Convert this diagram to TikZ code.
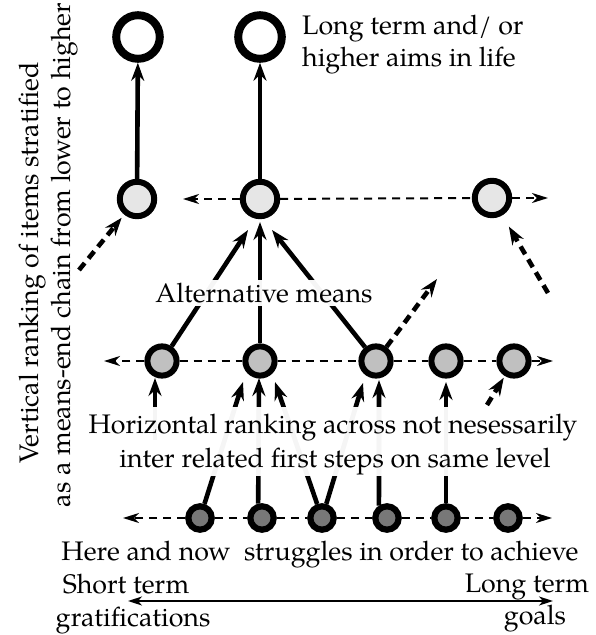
\documentclass[tikz,border=0pt]{standalone}
\usepackage{fontspec}
\setmainfont{TeX Gyre Pagella}
\usetikzlibrary{arrows.meta}
\definecolor{lvtwo}{HTML}{E6E6E6}
\definecolor{lvthree}{HTML}{C0C0C0}
\definecolor{lvfour}{HTML}{787878}
\begin{document}
\begin{tikzpicture}[x=1bp,y=-1bp,
  txt/.style={inner sep=0, font=\fontsize{26.8bp}{32bp}\selectfont},
  topc/.style={circle, draw, line width=8bp, minimum size=43.6bp, inner sep=0, fill=white},
  midc/.style={circle, draw, line width=6bp, minimum size=34.4bp, inner sep=0, fill=lvtwo},
  lowc/.style={circle, draw, line width=6bp, minimum size=29.2bp, inner sep=0, fill=lvthree},
  basec/.style={circle, draw, line width=6.2bp, minimum size=23.4bp, inner sep=0, fill=lvfour},
  bigtip/.style={-{Stealth[length=18bp,width=13bp,inset=6bp]}},
  solidarr/.style={line width=4.6bp, bigtip},
  thickdash/.style={line width=4.6bp, dash pattern=on 9bp off 6bp, bigtip},
  leveldash/.style={line width=2bp, dash pattern=on 8bp off 6bp},
  levelarr/.style={leveldash, -{Stealth[length=16bp,width=10bp,inset=5bp]}},
]
\useasboundingbox (0,0) rectangle (596,635);

% circles
\node[topc] (t1) at (138,37) {};
\node[topc] (t2) at (260,37) {};
\node[midc] (m1) at (137,199) {};
\node[midc] (m2) at (260,199) {};
\node[midc] (m3) at (492,198) {};
\node[lowc] (a1) at (162,361) {};
\node[lowc] (a2) at (260,361) {};
\node[lowc] (a3) at (376,361) {};
\node[lowc] (a4) at (446,361) {};
\node[lowc] (a5) at (514,361) {};
\node[basec] (b1) at (200,518) {};
\node[basec] (b2) at (262,518) {};
\node[basec] (b3) at (322,518) {};
\node[basec] (b4) at (387,518) {};
\node[basec] (b5) at (446,518) {};
\node[basec] (b6) at (508,518) {};

% free ends
\coordinate (L2l) at (183,199);
\coordinate (L2r) at (548,198);
\coordinate (L3l) at (104,361);
\coordinate (L3r) at (553,361);
\coordinate (L4l) at (123,518);
\coordinate (L4r) at (552,518);
\coordinate (p1) at (248,230);
\coordinate (p2) at (260,222);
\coordinate (p3) at (272,230);
\coordinate (q0) at (155,378);
\coordinate (s0) at (155,440);
\coordinate (q1) at (243,382);
\coordinate (q2) at (259,378);
\coordinate (q3) at (275,382);
\coordinate (q4) at (363,383);
\coordinate (q5) at (379,380);
\coordinate (q6) at (446,382);
\coordinate (d1s) at (79,270);
\coordinate (d2s) at (548,293);
\coordinate (d3t) at (437,279);
\coordinate (d4s) at (487,405);
\coordinate (arrL) at (128,601);
\coordinate (arrR) at (553,601);

% level dashed lines
\draw[levelarr] (m2) -- (L2l);
\draw[leveldash] (m2) -- (m3);
\draw[levelarr] (m3) -- (L2r);
\draw[levelarr] (a1) -- (L3l);
\draw[leveldash] (a1) -- (a2);
\draw[leveldash] (a2) -- (a3);
\draw[leveldash] (a3) -- (a4);
\draw[leveldash] (a4) -- (a5);
\draw[levelarr] (a5) -- (L3r);
\draw[levelarr] (b1) -- (L4l);
\draw[leveldash] (b1) -- (b2);
\draw[leveldash] (b2) -- (b3);
\draw[leveldash] (b3) -- (b4);
\draw[leveldash] (b4) -- (b5);
\draw[leveldash] (b5) -- (b6);
\draw[levelarr] (b6) -- (L4r);

% vertical means-end arrows
\draw[solidarr] (m1) -- (t1);
\draw[solidarr] (m2) -- (t2);
\draw[solidarr] (a1) -- (p1);
\draw[solidarr] (a2) -- (p2);
\draw[solidarr] (a3) -- (p3);
\draw[solidarr] (s0) -- (q0);
\draw[solidarr] (b1) -- (q1);
\draw[solidarr] (b2.105) -- (q2);
\draw[solidarr] (b3) -- (q3);
\draw[solidarr] (b3) -- (q4);
\draw[solidarr] (b4.123) -- (q5);
\draw[solidarr] (b5) -- (q6);

% thick dashed arrows
\draw[thickdash, shorten >=4bp] (d1s) -- (m1);
\draw[thickdash, shorten >=13bp] (d2s) -- (m3);
\draw[thickdash] (a3) -- (d3t);
\draw[thickdash, shorten >=2bp] (d4s) -- (a5);

% labels
\node[txt, fill=white, fill opacity=0.96, text opacity=1, inner sep=3bp, anchor=base] (altm) at (264,302) {Alternative means};
\path[fill=white, fill opacity=0.96] (84,407) rectangle (582,476);
\node[txt, anchor=base] (hr1) at (333,433) {Horizontal ranking across not nesessarily};
\node[txt, anchor=base] (hr2) at (335,467) {inter related first steps on same level};

\node[txt, anchor=base west] (lt1) at (302,35) {Long term and/ or};
\node[txt, anchor=base west] (lt2) at (302,67) {higher aims in life};

\node[txt, anchor=base] (hn) at (320,560) {Here and now\ \ struggles in order to achieve};
\node[txt, anchor=base] (st1) at (126,593) {Short term};
\node[txt, anchor=base] (st2) at (133,626) {gratifications};
\node[txt, anchor=base] (lg1) at (527,592) {Long term};
\node[txt, anchor=base] (lg2) at (535,624) {goals};

\node[txt, rotate=90, anchor=base] (v1) at (38,263) {Vertical ranking of items stratified};
\node[txt, rotate=90, anchor=base] (v2) at (70,255) {as a means-end chain from lower to higher};

\draw[line width=1.6bp, {Stealth[length=14bp,width=9bp,inset=4bp]}-{Stealth[length=14bp,width=9bp,inset=4bp]}] (arrL) -- (arrR);
\end{tikzpicture}
\end{document}
